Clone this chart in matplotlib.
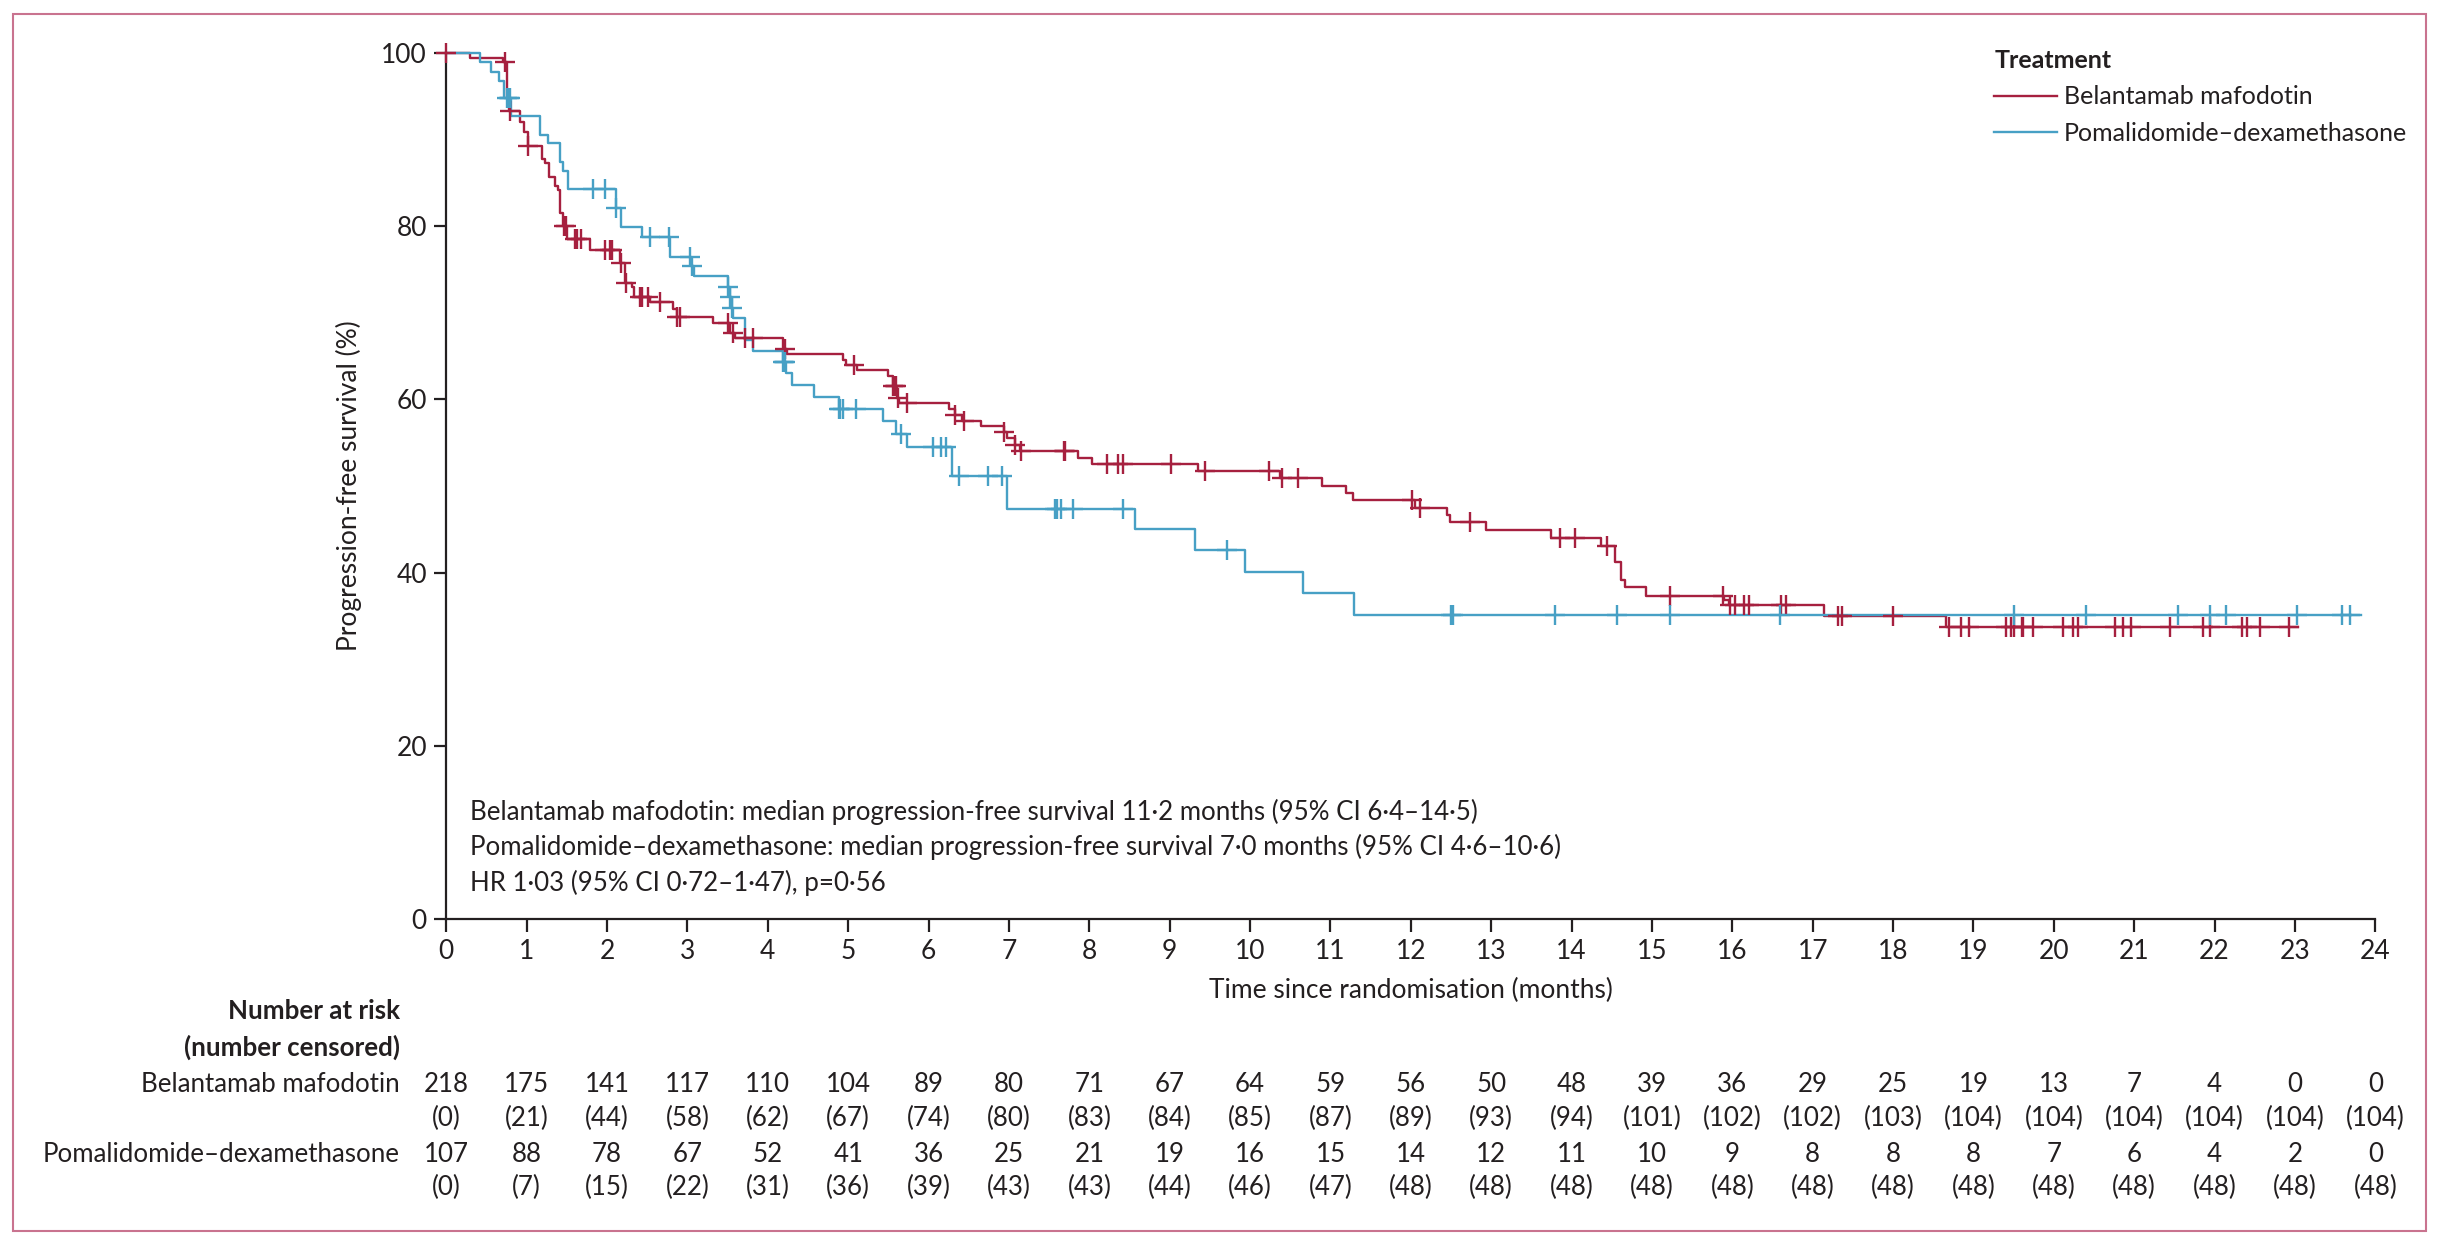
import matplotlib
matplotlib.use("Agg")
import matplotlib.pyplot as plt
import numpy as np
from matplotlib.lines import Line2D
from matplotlib.patches import Rectangle
from matplotlib.transforms import blended_transform_factory

plt.rcParams["font.family"] = ["Lato", "DejaVu Sans"]

INK = "#231f20"
RED = "#a6203f"
BLUE = "#47a0c5"
FRAME = "#c9738f"

# ── Dados ──────────────────────────────────────────────────────────────────────
# Belantamab mafodotin: tempo do degrau (meses) e sobrevida após o degrau (%)
bel_t = [0, 0.29, 0.71, 0.75, 0.78, 0.92, 0.97, 1.01, 1.19, 1.23,
         1.28, 1.35, 1.39, 1.41, 1.45, 1.50, 1.79, 2.16, 2.22, 2.31,
         2.33, 2.53, 2.82, 2.87, 3.32, 3.53, 3.59, 4.19, 4.24, 4.94,
         4.97, 5.11, 5.50, 5.56, 5.61, 5.63, 6.26, 6.33, 6.42, 6.65,
         6.94, 6.97, 7.07, 7.14, 7.86, 8.03, 9.35, 10.37, 10.89, 11.19,
         11.28, 12.05, 12.45, 12.49, 12.94, 13.75, 14.37, 14.54, 14.61, 14.67,
         14.93, 15.90, 15.96, 17.14, 18.66, 23.04]
bel_s = [100, 99.4, 98.9, 95.0, 93.3, 92.0, 90.9, 89.3, 87.8, 87.3,
         85.7, 84.6, 84.2, 81.5, 80.0, 78.5, 77.3, 75.7, 73.5, 73.0,
         71.8, 71.2, 70.4, 69.5, 68.8, 67.7, 67.1, 65.8, 65.2, 64.6,
         64.0, 63.4, 62.7, 61.5, 60.2, 59.6, 58.9, 58.2, 57.5, 56.9,
         56.2, 55.5, 54.8, 54.1, 53.3, 52.5, 51.8, 50.9, 50.0, 49.2,
         48.4, 47.5, 46.7, 45.8, 44.9, 44.0, 43.1, 41.2, 39.2, 38.3,
         37.3, 36.8, 36.3, 35.0, 33.7, 33.7]
bel_cens = [0, 0.73, 0.79, 1.02, 1.46, 1.49, 1.60, 1.62, 1.68, 1.98,
            2.04, 2.06, 2.17, 2.23, 2.41, 2.43, 2.51, 2.66, 2.87, 2.91,
            3.51, 3.57, 3.72, 3.81, 4.21, 5.07, 5.56, 5.58, 5.60, 5.62,
            5.73, 6.33, 6.44, 6.94, 7.07, 7.15, 7.68, 7.70, 8.22, 8.36,
            8.42, 9.02, 9.44, 10.24, 10.40, 10.60, 12.01, 12.11, 12.74, 13.86,
            14.04, 14.44, 15.23, 15.89, 15.97, 16.03, 16.15, 16.21, 16.61, 16.67,
            17.31, 17.37, 18.00, 18.69, 18.85, 18.94, 19.41, 19.47, 19.51, 19.60,
            19.62, 19.74, 20.11, 20.24, 20.30, 20.76, 20.86, 20.96, 21.45, 21.85,
            21.94, 22.34, 22.40, 22.57, 22.93]

# Pomalidomida–dexametasona
pom_t = [0, 0.42, 0.55, 0.66, 0.72, 0.80, 1.16, 1.26, 1.42, 1.45,
         1.51, 2.11, 2.17, 2.44, 2.78, 3.05, 3.08, 3.50, 3.53, 3.55,
         3.57, 3.72, 3.81, 4.19, 4.23, 4.30, 4.58, 4.88, 5.43, 5.60,
         5.73, 6.29, 6.97, 8.57, 9.31, 9.94, 10.66, 11.29, 23.82]
pom_s = [100, 98.9, 97.8, 96.8, 94.8, 92.7, 90.5, 89.6, 87.4, 86.4,
         84.3, 82.1, 79.9, 78.8, 76.5, 75.4, 74.2, 73.0, 71.8, 70.6,
         69.4, 66.9, 65.6, 64.3, 63.0, 61.7, 60.3, 58.9, 57.5, 56.0,
         54.5, 51.2, 47.4, 45.0, 42.6, 40.1, 37.7, 35.1, 35.1]
pom_cens = [0.76, 0.78, 0.79, 1.82, 1.97, 2.11, 2.53, 2.77, 3.03, 3.06,
            3.50, 3.53, 3.56, 4.19, 4.20, 4.21, 4.88, 4.90, 4.93, 5.10,
            5.66, 6.06, 6.15, 6.22, 6.38, 6.74, 6.91, 7.57, 7.60, 7.65,
            7.80, 8.42, 9.71, 12.50, 12.53, 13.79, 14.57, 15.23, 16.59, 19.51,
            20.40, 21.55, 21.94, 22.14, 23.03, 23.59, 23.69]

# Número em risco (número censurado) por mês
months = list(range(0, 25))
bel_risk = [218, 175, 141, 117, 110, 104, 89, 80, 71, 67, 64, 59, 56, 50, 48,
            39, 36, 29, 25, 19, 13, 7, 4, 0, 0]
bel_ncens = [0, 21, 44, 58, 62, 67, 74, 80, 83, 84, 85, 87, 89, 93, 94,
             101, 102, 102, 103, 104, 104, 104, 104, 104, 104]
pom_risk = [107, 88, 78, 67, 52, 41, 36, 25, 21, 19, 16, 15, 14, 12, 11,
            10, 9, 8, 8, 8, 7, 6, 4, 2, 0]
pom_ncens = [0, 7, 15, 22, 31, 36, 39, 43, 43, 44, 46, 47, 48, 48, 48,
             48, 48, 48, 48, 48, 48, 48, 48, 48, 48]

arms = ["Belantamab mafodotin", "Pomalidomide–dexamethasone"]
notes = [
    "Belantamab mafodotin: median progression-free survival 11·2 months (95% CI 6·4–14·5)",
    "Pomalidomide–dexamethasone: median progression-free survival 7·0 months (95% CI 4·6–10·6)",
    "HR 1·03 (95% CI 0·72–1·47), p=0·56",
]

FS = 19       # eixos
FS_TXT = 18.6  # anotações e tabela
FS_LEG = 18


def km_at(t_steps, s_steps, t):
    idx = np.searchsorted(np.asarray(t_steps), np.asarray(t), side="right") - 1
    return np.asarray(s_steps)[np.clip(idx, 0, len(s_steps) - 1)]


fig = plt.figure(figsize=(24.39, 12.45), dpi=100)
ax = fig.add_axes([0.1830, 0.2616, 0.7909, 0.6959])

for t, s, c, col in [(bel_t, bel_s, bel_cens, RED), (pom_t, pom_s, pom_cens, BLUE)]:
    ax.step(t, s, where="post", color=col, lw=1.7, clip_on=False, zorder=3)
    ax.plot(c, km_at(t, s, c), ls="none", marker="+", ms=15, mew=1.7,
            color=col, clip_on=False, zorder=4)

ax.set_xlim(0, 24)
ax.set_ylim(0, 100)
ax.set_xticks(months)
ax.set_yticks([0, 20, 40, 60, 80, 100])
for side in ["top", "right"]:
    ax.spines[side].set_visible(False)
for side in ["left", "bottom"]:
    ax.spines[side].set_linewidth(1.6)
    ax.spines[side].set_color(INK)
ax.tick_params(direction="out", length=9, width=1.6, colors=INK,
               labelsize=FS, pad=5)
ax.set_xlabel("Time since randomisation (months)", fontsize=FS, color=INK, labelpad=10)
ax.set_ylabel("Progression-free survival (%)", fontsize=FS, color=INK, labelpad=14)

for i, line in enumerate(notes):
    ax.text(0.29, 12.4 - 4.1 * i, line, fontsize=FS_TXT, color=INK, va="center", ha="left")

handles = [Line2D([0], [0], color=RED, lw=1.7), Line2D([0], [0], color=BLUE, lw=1.7)]
leg = fig.legend(handles, arms, loc="upper left", bbox_to_anchor=(0.8125, 0.971),
                 frameon=False, fontsize=FS_LEG, title="Treatment", alignment="left",
                 title_fontproperties={"weight": "bold", "size": FS_LEG},
                 handlelength=2.5, handletextpad=0.3, labelspacing=0.55, borderpad=0)
leg._legend_box.sep = 10
for txt in leg.get_texts():
    txt.set_color(INK)
leg.get_title().set_color(INK)

# ── Tabela de número em risco ──────────────────────────────────────────────────
tr = blended_transform_factory(ax.transData, fig.transFigure)
lab_x = 0.164
fig.text(lab_x, 0.188, "Number at risk", fontsize=FS_TXT, fontweight="bold",
         ha="right", va="center", color=INK)
fig.text(lab_x, 0.159, "(number censored)", fontsize=FS_TXT, fontweight="bold",
         ha="right", va="center", color=INK)
rows = [(arms[0], bel_risk, bel_ncens, 0.129, 0.102),
        (arms[1], pom_risk, pom_ncens, 0.073, 0.046)]
for name, risk, ncens, y1, y2 in rows:
    fig.text(lab_x, y1, name, fontsize=FS_TXT, ha="right", va="center", color=INK)
    for m, r, c in zip(months, risk, ncens):
        ax.text(m, y1, str(r), transform=tr, fontsize=FS_TXT, ha="center", va="center", color=INK)
        ax.text(m, y2, f"({c})", transform=tr, fontsize=FS_TXT, ha="center", va="center", color=INK)

fig.patches.append(Rectangle((13 / 2439, 14 / 1245), 2413 / 2439, 1217 / 1245,
                             transform=fig.transFigure, fill=False,
                             edgecolor=FRAME, lw=1.5))

fig.savefig("out.png", dpi=100)
plt.close(fig)
